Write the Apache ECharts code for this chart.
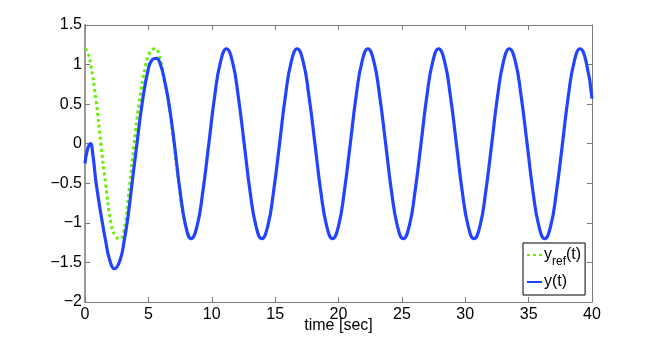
<!DOCTYPE html>
<html>
<head>
<meta charset="utf-8">
<script src="https://cdn.jsdelivr.net/npm/echarts@6/dist/echarts.min.js"></script>
<style>
    html, body { margin: 0; padding: 0; background: #fff; }
    #chart { width: 654px; height: 340px; }
</style>
</head>
<body>
<div id="chart"></div>
<script>
// reference signal y_ref(t) (hidden under y(t) after ~8 s)
const refTime = [0, 0.2, 0.45, 0.87, 1.25, 1.62, 2.05, 2.4, 2.74, 3.08, 3.5, 3.87, 4.26, 4.8, 5.15, 5.5, 5.85, 6.25, 6.6, 7.02, 7.48, 7.93, 8.37];
const refValues = [1.2, 1.16, 1.0, 0.55, 0, -0.5, -1.0, -1.17, -1.2, -1.1, -0.55, 0, 0.5, 1.0, 1.16, 1.2, 1.12, 0.8, 0.5, 0, -0.6, -1.04, -1.2];

// system output y(t)
const outTime = [
    0, 0.2, 0.43, 0.62, 0.88, 1.37, 1.62, 1.95, 2.33, 2.75, 3.1, 3.45, 3.75, 4.1, 4.5, 5.0, 5.3, 5.63, 5.95, 6.3, 6.63, 7.05, 7.5, 7.95, 8.37,
    8.84, 9.30, 9.77, 10.23, 10.70, 11.16, 11.63, 12.09, 12.56, 13.02, 13.49,
    13.95, 14.42, 14.88, 15.35, 15.81, 16.28, 16.74, 17.21, 17.67, 18.14, 18.60, 19.07,
    19.53, 20.00, 20.46, 20.93, 21.39, 21.86, 22.32, 22.79, 23.25, 23.72, 24.18, 24.65,
    25.11, 25.58, 26.04, 26.51, 26.97, 27.44, 27.90, 28.37, 28.83, 29.30, 29.76, 30.23,
    30.69, 31.16, 31.62, 32.09, 32.55, 33.02, 33.48, 33.95, 34.41, 34.88, 35.34, 35.81,
    36.27, 36.74, 37.20, 37.67, 38.13, 38.60, 39.06, 39.53, 40.0
];
const outValues = [
    -0.25, -0.07, 0, -0.14, -0.5, -1.0, -1.22, -1.47, -1.58, -1.48, -1.22, -0.85, -0.45, 0, 0.5, 0.95, 1.06, 1.08, 1.0, 0.78, 0.5, 0, -0.6, -1.04, -1.2,
    -1.04, -0.6, 0, 0.6, 1.04, 1.2, 1.04, 0.6, 0, -0.6, -1.04,
    -1.2, -1.04, -0.6, 0, 0.6, 1.04, 1.2, 1.04, 0.6, 0, -0.6, -1.04,
    -1.2, -1.04, -0.6, 0, 0.6, 1.04, 1.2, 1.04, 0.6, 0, -0.6, -1.04,
    -1.2, -1.04, -0.6, 0, 0.6, 1.04, 1.2, 1.04, 0.6, 0, -0.6, -1.04,
    -1.2, -1.04, -0.6, 0, 0.6, 1.04, 1.2, 1.04, 0.6, 0, -0.6, -1.04,
    -1.2, -1.04, -0.6, 0, 0.6, 1.04, 1.2, 1.04, 0.57
];

const xTicks = [0, 40, 5];      // min, max, step
const yTicks = [-2, 1.5, 0.5];

const pairs = (xs, ys) => xs.slice(0, Math.min(xs.length, ys.length)).map((x, i) => [x, ys[i]]);

const FONT = 'Liberation Sans, Arial, Helvetica, sans-serif';
const axisGray = '#7a7a7a';

const chart = echarts.init(document.getElementById('chart'));

// top / right axes only close the box (ticks, no labels)
const boxAxis = {
    type: 'value',
    axisLine: { show: true, onZero: false, lineStyle: { color: axisGray, width: 1 } },
    axisTick: { show: true, inside: true, length: 5, lineStyle: { color: axisGray } },
    axisLabel: { show: false },
    splitLine: { show: false }
};

chart.setOption({
    backgroundColor: '#ffffff',
    animation: false,
    grid: {
        left: 85, right: 62, top: 25, bottom: 38,
        outerBoundsMode: 'none'
    },
    legend: {
        orient: 'vertical',
        left: 523, top: 243,
        padding: [4, 4, 5, 3],
        itemGap: 6,
        itemWidth: 15,
        itemHeight: 10,
        backgroundColor: '#ffffff',
        borderColor: '#000000',
        borderWidth: 1,
        borderRadius: 0,
        data: ['y_ref(t)', 'y(t)'],
        formatter: (name) => name === 'y_ref(t)' ? '{n|y}{s|ref}{n|(t)}' : '{n|y(t)}',
        textStyle: {
            padding: [0, 0, 0, -3],
            rich: {
                n: { fontFamily: FONT, fontSize: 16, color: '#000', lineHeight: 22 },
                s: { fontFamily: FONT, fontSize: 12, color: '#000', padding: [14, 0, 0, 0] }
            }
        }
    },
    xAxis: [
        {
            type: 'value',
            min: xTicks[0], max: xTicks[1], interval: xTicks[2],
            name: 'time [sec]',
            nameLocation: 'middle',
            nameGap: 16,
            nameMoveOverlap: false,
            nameTextStyle: { fontFamily: FONT, fontSize: 16, color: '#000', verticalAlign: 'top' },
            axisLine: { show: true, onZero: false, lineStyle: { color: axisGray, width: 1 } },
            axisTick: { show: true, inside: true, length: 5, lineStyle: { color: axisGray } },
            axisLabel: { fontFamily: FONT, fontSize: 16, color: '#000', margin: 5, hideOverlap: false },
            splitLine: { show: false }
        },
        Object.assign({}, boxAxis, {
            position: 'top',
            min: xTicks[0], max: xTicks[1], interval: xTicks[2]
        })
    ],
    yAxis: [
        {
            type: 'value',
            min: yTicks[0], max: yTicks[1], interval: yTicks[2],
            axisLine: { show: true, onZero: false, lineStyle: { color: '#9a9a9a', width: 2 } },
            axisTick: { show: true, inside: true, length: 5, lineStyle: { color: axisGray } },
            axisLabel: {
                fontFamily: FONT, fontSize: 16, color: '#000', margin: 3, hideOverlap: false,
                formatter: (v) => String(v).replace('-', '\u2212')
            },
            splitLine: { show: false }
        },
        Object.assign({}, boxAxis, {
            position: 'right',
            min: yTicks[0], max: yTicks[1], interval: yTicks[2]
        })
    ],
    series: [
        {
            name: 'y_ref(t)',
            type: 'line',
            data: pairs(refTime, refValues),
            smooth: 0.5,
            symbol: 'none',
            color: '#66f000',
            itemStyle: { opacity: 0 },
            lineStyle: { color: '#66f000', width: 3, type: [3, 3], cap: 'butt' },
            z: 2
        },
        {
            name: 'y(t)',
            type: 'line',
            data: pairs(outTime, outValues),
            smooth: 0.5,
            symbol: 'none',
            color: '#2244ff',
            itemStyle: { opacity: 0 },
            lineStyle: { color: '#2244ff', width: 3.2 },
            z: 3
        }
    ]
});
</script>
</body>
</html>
